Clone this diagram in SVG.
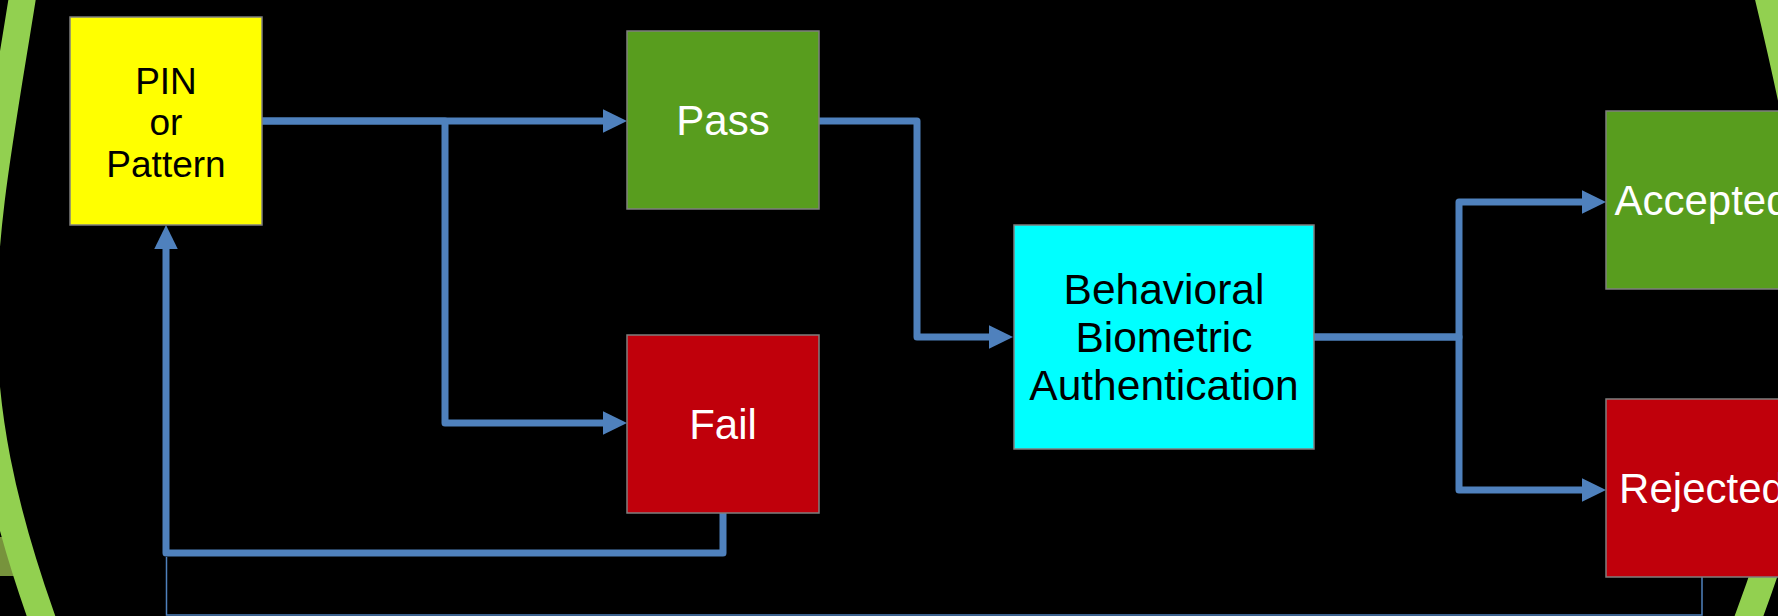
<svg xmlns="http://www.w3.org/2000/svg" width="1778" height="616" viewBox="0 0 1778 616">
  <style>
    .box { stroke: #7F7F7F; stroke-width: 1.5; }
    .lbl { font-family: "Liberation Sans", Arial, sans-serif; text-anchor: middle; }
    .dark { fill: #000000; }
    .light { fill: #FFFFFF; font-size: 42px; }
    .conn { fill: none; stroke: #4F81BD; stroke-width: 7; stroke-linejoin: round; }
    .thin { fill: none; stroke: #4F81BD; stroke-width: 1.5; }
    .arc { fill: none; stroke: #92D050; stroke-width: 27; }
  </style>
  <defs>
    <marker id="arrow" markerUnits="userSpaceOnUse" markerWidth="24" markerHeight="24" refX="8" refY="11.75" orient="auto">
      <path d="M0,0 L24,11.75 L0,23.5 z" fill="#4F81BD"/>
    </marker>
  </defs>
  <rect x="0" y="0" width="1778" height="616" fill="#000000"/>
  <g id="decor">
    <rect x="0" y="537" width="20" height="39" fill="#77933C"/>
    <path class="arc" d="M25.2,-20 L22,0 C-18,250 -47.5,366 41,616 L48,636"/>
    <path class="arc" d="M1764.2,-20 L1769,0 C1829,250 1841.5,366 1749,616 L1741.6,636"/>
  </g>
  <g id="connectors">
    <path class="conn" d="M262,121 H611" marker-end="url(#arrow)"/>
    <path class="conn" d="M262,121 H445 V423 H611" marker-end="url(#arrow)"/>
    <path class="conn" d="M819,121 H917 V337 H997" marker-end="url(#arrow)"/>
    <path class="conn" d="M1314,337 H1459 V202 H1590" marker-end="url(#arrow)"/>
    <path class="conn" d="M1314,337 H1459 V490 H1590" marker-end="url(#arrow)"/>
    <path class="conn" d="M723,513 V553 H166 V241" marker-end="url(#arrow)"/>
    <path class="thin" d="M1702,577 V615 H166.5 V557"/>
  </g>
  <g id="pin">
    <rect class="box" x="70" y="17" width="192" height="208" fill="#FFFF00"/>
    <text class="lbl dark" font-size="37" x="166" y="93.5">PIN</text>
    <text class="lbl dark" font-size="37" x="166" y="134.5">or</text>
    <text class="lbl dark" font-size="37" x="166" y="176.5">Pattern</text>
  </g>
  <g id="pass">
    <rect class="box" x="627" y="31" width="192" height="178" fill="#589D1E"/>
    <text class="lbl light" x="723" y="135">Pass</text>
  </g>
  <g id="fail">
    <rect class="box" x="627" y="335" width="192" height="178" fill="#C0000B"/>
    <text class="lbl light" x="723" y="439">Fail</text>
  </g>
  <g id="behavioral">
    <rect class="box" x="1014" y="225" width="300" height="224" fill="#00FFFF"/>
    <text class="lbl dark" font-size="42.5" x="1164" y="304.3">Behavioral</text>
    <text class="lbl dark" font-size="42.5" x="1164" y="352.3">Biometric</text>
    <text class="lbl dark" font-size="42.5" x="1164" y="400.3">Authentication</text>
  </g>
  <g id="accepted">
    <rect class="box" x="1606" y="111" width="192" height="178" fill="#589D1E"/>
    <text class="lbl light" x="1702" y="215">Accepted</text>
  </g>
  <g id="rejected">
    <rect class="box" x="1606" y="399" width="192" height="178" fill="#C0000B"/>
    <text class="lbl light" x="1702" y="503">Rejected</text>
  </g>
</svg>
